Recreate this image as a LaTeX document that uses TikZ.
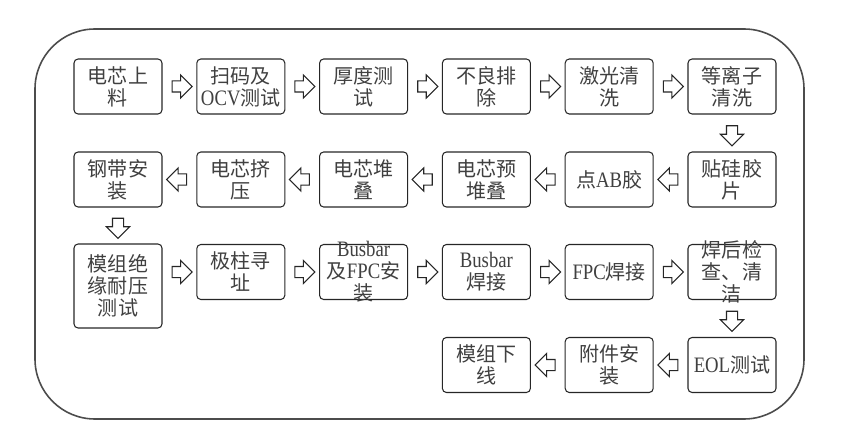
\documentclass[tikz,border=0pt]{standalone}
\usepackage{fontspec}
\newfontfamily\cjk{Noto Sans CJK SC}
\newfontfamily\latin[Scale=1.1, FakeStretch=0.85]{Liberation Serif}
\newcommand{\en}[1]{{\latin #1}}
\usetikzlibrary{shapes.arrows, calc}

\tikzset{
  stepbox/.style={draw=black!85, line width=0.6pt, rounded corners=2.3pt,
    minimum width=1.76cm, minimum height=1.1cm, inner sep=0pt, align=center,
    font=\cjk\fontsize{11.4}{12.5}\selectfont, text=black!75},
  steplabel/.style={align=center, inner sep=0pt,
    font=\cjk\fontsize{11.4}{12.5}\selectfont, text=black!75},
  flowarrow/.style={single arrow, draw=black!85, fill=white, line width=0.6pt,
    minimum height=0.4cm, single arrow head extend=0.12cm, inner sep=0.1cm},
}

\begin{document}
\begin{tikzpicture}
  \useasboundingbox (0,0) rectangle (17.28,8.94);
  \draw[black!70, line width=0.9pt, rounded corners=1.2cm] (0.70,0.56) rectangle (16.08,8.36);

  % row 1 (left to right)
  \foreach \i/\lab in {1/{电芯上\\料}, 2/{扫码及\\\en{OCV}测试}, 3/{厚度测\\试},
                       4/{不良排\\除}, 5/{激光清\\洗}, 6/{等离子\\清洗}}
    \node[stepbox] (a\i) at ({2.36+2.456*(\i-1)},7.21) {\lab};

  % row 2 (right to left)
  \foreach \i/\lab in {1/{钢带安\\装}, 2/{电芯挤\\压}, 3/{电芯堆\\叠},
                       4/{电芯预\\堆叠}, 5/{点\en{AB}胶}, 6/{贴硅胶\\片}}
    \node[stepbox] (b\i) at ({2.36+2.456*(\i-1)},5.35) {\lab};

  % row 3 (left to right)
  \node[stepbox, minimum height=1.68cm] (c1) at (2.36,3.22) {模组绝\\缘耐压\\测试};
  \node[stepbox] (c2) at (4.816,3.50) {极柱寻\\址};
  \node[stepbox, label={[steplabel]center:\en{Busbar}\\及\en{FPC}安\\装}] (c3) at (7.272,3.50) {};
  \node[stepbox] (c4) at (9.728,3.50) {\en{Busbar}\\焊接};
  \node[stepbox] (c5) at (12.184,3.50) {\en{FPC}焊接};
  \node[stepbox, label={[steplabel]center:焊后检\\查、清\\洁}] (c6) at (14.64,3.50) {};

  % row 4 (right to left)
  \node[stepbox] (d4) at (9.728,1.64) {模组下\\线};
  \node[stepbox] (d5) at (12.184,1.64) {附件安\\装};
  \node[stepbox] (d6) at (14.64,1.64) {\en{EOL}测试};

  % block arrows
  \foreach \i [count=\j from 2] in {1,...,5} {
    \node[flowarrow] at ($(a\i.east)!0.5!(a\j.west)$) {};
    \node[flowarrow, shape border rotate=180] at ($(b\i.east)!0.5!(b\j.west)$) {};
  }
  \node[flowarrow] at ($(c1.east |- c2.west)!0.5!(c2.west)$) {};
  \foreach \i [count=\j from 3] in {2,...,5}
    \node[flowarrow] at ($(c\i.east)!0.5!(c\j.west)$) {};
  \foreach \i [count=\j from 5] in {4,5}
    \node[flowarrow, shape border rotate=180] at ($(d\i.east)!0.5!(d\j.west)$) {};
  \node[flowarrow, shape border rotate=270] at ($(a6.south)!0.5!(b6.north)$) {};
  \node[flowarrow, shape border rotate=270] at ($(b1.south)!0.5!(c1.north)$) {};
  \node[flowarrow, shape border rotate=270] at ($(c6.south)!0.5!(d6.north)$) {};
\end{tikzpicture}
\end{document}
